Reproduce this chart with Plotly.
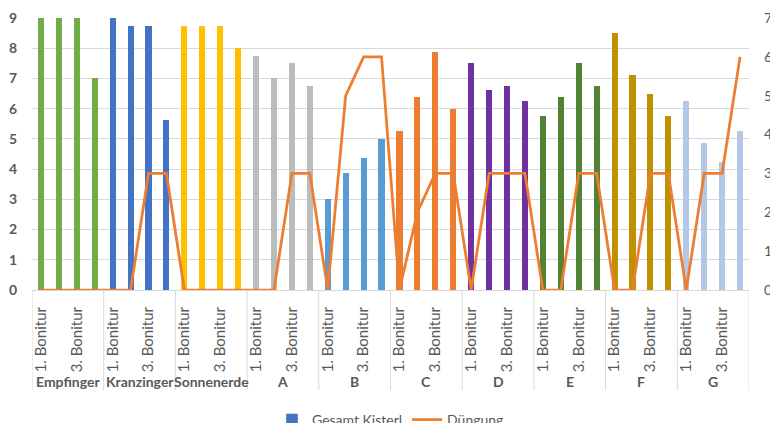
import plotly.graph_objects as go

groups = ["Empfinger", "Kranzinger", "Sonnenerde", "A", "B", "C", "D", "E", "F", "G"]
bonitur = ["1. Bonitur", "2. Bonitur", "3. Bonitur", "4. Bonitur"]

kisterl_empfinger = [9, 9, 9, 7]
kisterl_kranzinger = [9, 8.75, 8.75, 5.625]
kisterl_sonnenerde = [8.75, 8.75, 8.75, 8]
kisterl_a = [7.75, 7, 7.5, 6.75]
kisterl_b = [3, 3.875, 4.375, 5]
kisterl_c = [5.25, 6.375, 7.875, 6]
kisterl_d = [7.5, 6.625, 6.75, 6.25]
kisterl_e = [5.75, 6.375, 7.5, 6.75]
kisterl_f = [8.5, 7.125, 6.5, 5.75]
kisterl_g = [6.25, 4.875, 4.25, 5.25]

duengung_empfinger = [0, 0, 0, 0]
duengung_kranzinger = [0, 0, 3, 3]
duengung_sonnenerde = [0, 0, 0, 0]
duengung_a = [0, 0, 3, 3]
duengung_b = [0, 5, 6, 6]
duengung_c = [0, 2, 3, 3]
duengung_d = [0, 3, 3, 3]
duengung_e = [0, 0, 3, 3]
duengung_f = [0, 0, 3, 3]
duengung_g = [0, 3, 3, 6]

group_colors = ["#70AD47", "#4472C4", "#FFC000", "#BCBCBC", "#5B9BD5",
                "#ED7D31", "#7030A0", "#548235", "#BF9000", "#B4C7E7"]

kisterl = [kisterl_empfinger, kisterl_kranzinger, kisterl_sonnenerde, kisterl_a, kisterl_b,
           kisterl_c, kisterl_d, kisterl_e, kisterl_f, kisterl_g]
duengung = [duengung_empfinger, duengung_kranzinger, duengung_sonnenerde, duengung_a, duengung_b,
            duengung_c, duengung_d, duengung_e, duengung_f, duengung_g]

n_sub = len(bonitur)
x_idx, y_bar, y_line, colors = [], [], [], []
for gi, g in enumerate(groups):
    for si in range(n_sub):
        x_idx.append(gi * n_sub + si)
        y_bar.append(kisterl[gi][si])
        y_line.append(duengung[gi][si])
        colors.append(group_colors[gi])

txt = "#595959"
grid = "#D9D9D9"
font_family = "Lato, Open Sans, sans-serif"

fig = go.Figure()
fig.add_trace(go.Bar(x=x_idx, y=y_bar, marker=dict(color=colors, line=dict(width=0)),
                     width=0.34, showlegend=False, name="Gesamt Kisterl"))
fig.add_trace(go.Bar(x=[None], y=[None], marker=dict(color="#4472C4"), name="Gesamt Kisterl"))
fig.add_trace(go.Scatter(x=x_idx, y=y_line, mode="lines", yaxis="y2", name="Düngung",
                         line=dict(color="#ED7D31", width=2.75)))

tickvals = [i for i in x_idx if (i % n_sub) in (0, 2)]
ticktext = [bonitur[i % n_sub] for i in tickvals]

shapes = []
for gi in range(len(groups) + 1):
    xb = gi * n_sub - 0.5
    shapes.append(dict(type="line", xref="x", yref="paper", x0=xb, x1=xb, y0=0, y1=-0.368,
                       line=dict(color=grid, width=1)))

annotations = []
for gi, g in enumerate(groups):
    annotations.append(dict(x=gi * n_sub + (n_sub - 1) / 2, y=-0.335, xref="x", yref="paper",
                            text="<b>%s</b>" % g, showarrow=False, yanchor="middle",
                            font=dict(size=14, color=txt, family=font_family)))

fig.update_layout(
    width=770, height=423,
    margin=dict(l=32, r=21, t=18, b=133, autoexpand=False),
    plot_bgcolor="white", paper_bgcolor="white",
    font=dict(family=font_family, color=txt, size=13),
    bargap=0,
    xaxis=dict(range=[-0.5, len(x_idx) - 0.5], tickvals=tickvals, ticktext=ticktext,
               tickangle=-90, showgrid=False, zeroline=False, showline=True, linecolor=grid,
               ticks="", ticklabelstandoff=10, automargin=False,
               tickfont=dict(size=15, color=txt)),
    yaxis=dict(range=[0, 9], dtick=1, showgrid=True, gridcolor=grid, zeroline=False,
               showline=False, ticks="", ticklabelstandoff=14, automargin=False,
               tickfont=dict(size=14, color=txt, weight="bold")),
    yaxis2=dict(range=[0, 7], dtick=1, overlaying="y", side="right", showgrid=False,
                zeroline=False, showline=False, ticks="", ticklabelstandoff=14, automargin=False,
                ticklabeloverflow="allow", tickfont=dict(size=14, color=txt)),
    legend=dict(orientation="h", x=0.5, xanchor="center", y=-0.419, yanchor="top",
                font=dict(size=14, color=txt), traceorder="normal"),
    shapes=shapes,
    annotations=annotations,
)

fig.write_html("out.html", config={"displayModeBar": False},
               post_script="document.body.style.margin='0px';document.body.style.overflow='hidden';")
